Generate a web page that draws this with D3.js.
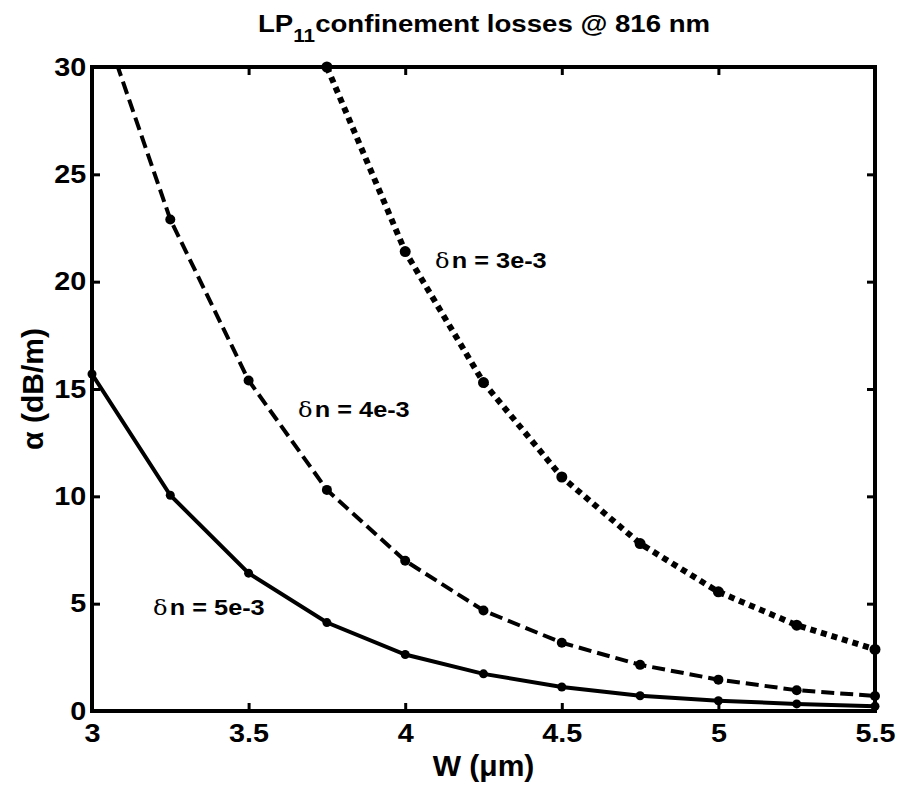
<!DOCTYPE html>
<html>
<head>
<meta charset="utf-8">
<script src="https://cdn.jsdelivr.net/npm/d3@7"></script>
<style>
  body { margin: 0; background: white; }
  text { font-family: "Liberation Sans", Arial, sans-serif; font-weight: bold; }
</style>
</head>
<body>
<div id="container"></div>
<script>
// widths W (um) and losses alpha (dB/m) for each delta n
let widths = [3, 3.25, 3.5, 3.75, 4, 4.25, 4.5, 4.75, 5, 5.25, 5.5];
let loss5e3 = [15.7, 10.05, 6.42, 4.12, 2.63, 1.73, 1.12, 0.71, 0.48, 0.33, 0.22];
let loss4e3 = [33.5, 22.9, 15.4, 10.3, 7.0, 4.68, 3.18, 2.15, 1.46, 0.97, 0.7];
let loss3e3 = [null, null, null, 30.0, 21.4, 15.3, 10.9, 7.8, 5.55, 4.0, 2.87];

let xTicks = [3, 3.5, 4, 4.5, 5, 5.5];
let yTicks = [0, 5, 10, 15, 20, 25, 30];

let w = 901;
let h = 791;
let plotLeft = 92, plotRight = 875, plotTop = 67, plotBottom = 711;
let stretch = "scale(1.15,1)"; // the original font runs wider than Liberation Sans

let viz = d3.select("#container")
  .append("svg")
    .attr("width", w)
    .attr("height", h)
    .style("background-color", "white")
;

let xScale = d3.scaleLinear().domain([3, 5.5]).range([plotLeft, plotRight]);
let yScale = d3.scaleLinear().domain([0, 30]).range([plotBottom, plotTop]);

viz.append("clipPath").attr("id", "plotclip")
  .append("rect")
    .attr("x", plotLeft).attr("y", plotTop)
    .attr("width", plotRight - plotLeft).attr("height", plotBottom - plotTop);

// axes, ticks pointing inward like matlab's box
viz.append("g")
    .attr("transform", "translate(0," + plotBottom + ")")
    .call(d3.axisBottom(xScale).tickValues(xTicks).tickSize(-8).tickPadding(13).tickFormat(d3.format("")));
viz.append("g")
    .attr("transform", "translate(" + plotLeft + ",0)")
    .call(d3.axisLeft(yScale).tickValues(yTicks).tickSize(-8).tickPadding(5));
viz.append("g")
    .attr("transform", "translate(0," + plotTop + ")")
    .call(d3.axisTop(xScale).tickValues(xTicks).tickSize(-8).tickFormat(""));
viz.append("g")
    .attr("transform", "translate(" + plotRight + ",0)")
    .call(d3.axisRight(yScale).tickValues(yTicks).tickSize(-8).tickFormat(""));

viz.selectAll(".domain").remove();
viz.selectAll(".tick line").attr("stroke", "black").attr("stroke-width", 3);
viz.selectAll(".tick text")
    .attr("fill", "black")
    .attr("transform", stretch)
    .style("font-size", "25px");

viz.append("rect")
    .attr("x", plotLeft).attr("y", plotTop)
    .attr("width", plotRight - plotLeft).attr("height", plotBottom - plotTop)
    .attr("fill", "none")
    .attr("stroke", "black")
    .attr("stroke-width", 4);

// curves
let series = [
  { name: "5e-3", values: loss5e3, dash: null, width: 4, r: 4.5 },
  { name: "4e-3", values: loss4e3, dash: "13,6", width: 4, r: 5 },
  { name: "3e-3", values: loss3e3, dash: "6,5", width: 6, r: 5.5 }
];

let line = d3.line()
    .defined(function(d){ return d.y != null; })
    .x(function(d){ return xScale(d.x); })
    .y(function(d){ return yScale(d.y); });

series.forEach(function(s){
  let pts = widths.map(function(x, i){ return { x: x, y: s.values[i] }; });
  let g = viz.append("g");
  g.append("path")
      .datum(pts)
      .attr("d", line)
      .attr("clip-path", "url(#plotclip)")
      .attr("fill", "none")
      .attr("stroke", "black")
      .attr("stroke-width", s.width)
      .attr("stroke-dasharray", s.dash);
  g.selectAll("circle")
    .data(pts.filter(function(d){ return d.y != null && d.y <= 30; }))
    .enter()
    .append("circle")
      .attr("cx", function(d){ return xScale(d.x); })
      .attr("cy", function(d){ return yScale(d.y); })
      .attr("r", s.r)
      .attr("fill", "black");
});

// curve labels
let labels = [
  { text: " n = 3e-3", x: 435, y: 268 },
  { text: " n = 4e-3", x: 298, y: 417 },
  { text: " n = 5e-3", x: 153, y: 615 }
];
labels.forEach(function(l){
  let t = viz.append("text")
      .attr("transform", "translate(" + l.x + "," + l.y + ") " + stretch)
      .attr("fill", "black")
      .style("font-size", "22px")
      .style("white-space", "pre");
  t.append("tspan").text("δ")
      .style("font-family", "'DejaVu Serif', serif")
      .style("font-weight", "normal")
      .style("font-size", "21px");
  t.append("tspan").text(l.text.slice(1)).attr("dx", 2);
});

// title
let title = viz.append("text")
    .attr("transform", "translate(258,32) " + stretch)
    .attr("fill", "black")
    .style("font-size", "24px");
title.append("tspan").text("LP");
title.append("tspan").text("11").attr("dy", 10).style("font-size", "18px");
title.append("tspan").text("confinement losses @ 816 nm").attr("dy", -10);

// axis labels
viz.append("text")
    .text("W (μm)")
    .attr("transform", "translate(" + (plotLeft + plotRight) / 2 + ",776)")
    .attr("text-anchor", "middle")
    .attr("fill", "black")
    .style("font-size", "30px");

viz.append("text")
    .text("α (dB/m)")
    .attr("transform", "translate(43," + (plotTop + plotBottom) / 2 + ") rotate(-90)")
    .attr("text-anchor", "middle")
    .attr("fill", "black")
    .style("font-size", "30px");
</script>
</body>
</html>
